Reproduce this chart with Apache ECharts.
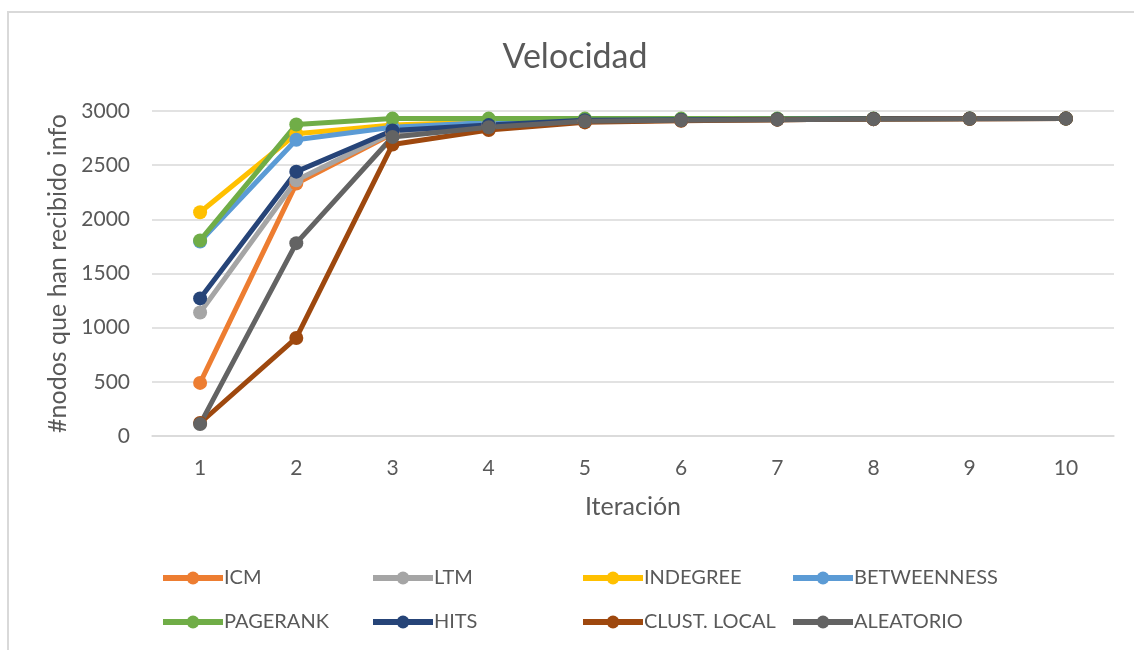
<!DOCTYPE html>
<html>
<head>
<meta charset="utf-8">
<script src="https://cdn.jsdelivr.net/npm/echarts@6/dist/echarts.min.js"></script>
<style>
  html, body { margin: 0; padding: 0; background: #fff; }
  #chart { width: 1134px; height: 650px; }
</style>
</head>
<body>
<div id="chart"></div>
<script>
// Iterations on the x axis
const iterations = ['1', '2', '3', '4', '5', '6', '7', '8', '9', '10'];

// Number of nodes that have received the information, per strategy
const icm         = [490, 2330, 2790, 2870, 2905, 2915, 2920, 2925, 2928, 2930];
const ltm         = [1140, 2360, 2800, 2870, 2905, 2915, 2920, 2925, 2928, 2930];
const indegree    = [2065, 2790, 2870, 2900, 2915, 2920, 2925, 2928, 2930, 2930];
const betweenness = [1795, 2735, 2850, 2895, 2915, 2920, 2925, 2928, 2930, 2930];
const pagerank    = [1805, 2875, 2930, 2930, 2930, 2930, 2930, 2930, 2930, 2930];
const hits        = [1270, 2440, 2820, 2870, 2915, 2920, 2925, 2928, 2930, 2930];
const clustLocal  = [120, 905, 2690, 2825, 2895, 2910, 2920, 2925, 2928, 2930];
const aleatorio   = [110, 1780, 2760, 2850, 2905, 2915, 2920, 2925, 2928, 2930];

const seriesDefs = [
  { name: 'ICM',          data: icm,         color: '#ED7D31' },
  { name: 'LTM',          data: ltm,         color: '#A5A5A5' },
  { name: 'INDEGREE',     data: indegree,    color: '#FFC000' },
  { name: 'BETWEENNESS',  data: betweenness, color: '#5B9BD5' },
  { name: 'PAGERANK',     data: pagerank,    color: '#70AD47' },
  { name: 'HITS',         data: hits,        color: '#264478' },
  { name: 'CLUST. LOCAL', data: clustLocal,  color: '#9E480E' },
  { name: 'ALEATORIO',    data: aleatorio,   color: '#636363' }
];

const FONT = "Lato, 'Liberation Sans', sans-serif";
const TEXT = '#595959';

// One legend block per entry, laid out in a 4 x 2 grid
const legendCols = [155, 365, 575, 785];
const legendRows = [563, 607];
const legends = seriesDefs.map((s, i) => ({
  data: [s.name],
  left: legendCols[i % 4],
  top: legendRows[Math.floor(i / 4)],
  itemWidth: 60,
  itemHeight: 16,
  itemGap: 0,
  lineStyle: { width: 6 },
  textStyle: { color: TEXT, fontSize: 20, fontFamily: FONT, padding: [0, 0, 0, -4] }
}));

const chart = echarts.init(document.getElementById('chart'), null, { renderer: 'canvas' });
chart.setOption({
  animation: false,
  backgroundColor: '#fff',
  graphic: [{
    type: 'rect',
    shape: { x: 8, y: 12, width: 1200, height: 700 },
    style: { fill: 'none', stroke: '#d9d9d9', lineWidth: 2 },
    silent: true
  }],
  title: {
    text: 'Velocidad',
    left: 570,
    textAlign: 'center',
    top: 35,
    textStyle: { color: TEXT, fontSize: 34, fontWeight: 'normal', fontFamily: FONT }
  },
  legend: legends,
  grid: { left: 152, right: 20, top: 111, bottom: 214, containLabel: false },
  xAxis: {
    type: 'category',
    data: iterations,
    boundaryGap: true,
    name: 'Iteración',
    nameLocation: 'middle',
    nameGap: 58,
    nameTextStyle: { color: TEXT, fontSize: 25, fontFamily: FONT },
    axisLine: { lineStyle: { color: '#d9d9d9', width: 1.5 } },
    axisTick: { show: false },
    axisLabel: { color: TEXT, fontSize: 21, fontFamily: FONT, margin: 22 }
  },
  yAxis: {
    type: 'value',
    min: 0,
    max: 3000,
    interval: 500,
    name: '#nodos que han recibido info',
    nameLocation: 'middle',
    nameRotate: 90,
    nameGap: 82,
    nameTextStyle: { color: TEXT, fontSize: 25, fontFamily: FONT },
    axisLine: { show: false },
    axisTick: { show: false },
    axisLabel: { color: TEXT, fontSize: 21, fontFamily: FONT, margin: 22, formatter: v => String(v) },
    splitLine: { lineStyle: { color: '#d9d9d9', width: 1.5 } }
  },
  series: seriesDefs.map(s => ({
    name: s.name,
    type: 'line',
    data: s.data,
    symbol: 'circle',
    symbolSize: 14,
    showSymbol: true,
    color: s.color,
    lineStyle: { width: 5, color: s.color },
    itemStyle: { color: s.color },
    emphasis: { disabled: true }
  }))
});
</script>
</body>
</html>
